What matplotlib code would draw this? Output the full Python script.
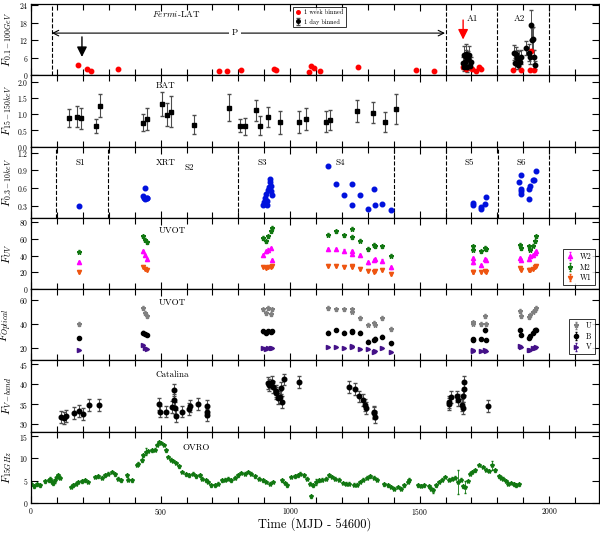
import numpy as np
import matplotlib
matplotlib.use("Agg")
import matplotlib.pyplot as plt
from matplotlib.ticker import MultipleLocator

plt.rcParams["font.family"] = "serif"
plt.rcParams["font.serif"] = ["cmr10", "DejaVu Serif"]
plt.rcParams["mathtext.fontset"] = "cm"
plt.rcParams["axes.formatter.use_mathtext"] = True
plt.rcParams["axes.unicode_minus"] = False

# ---- Fermi-LAT ----
lat_week_x = [180, 217, 230, 334, 727, 755, 812, 936, 944, 1071, 1079, 1092, 1114, 1261, 1486, 1555,
              1666, 1679, 1702, 1717, 1730, 1738, 1862, 1891, 1925, 1932, 1942]
lat_week_y = [3.6, 2.0, 1.6, 2.1, 1.6, 1.5, 1.8, 2.2, 1.9, 1.2, 3.1, 2.6, 1.5, 2.9, 1.7, 1.4,
              3.0, 2.2, 2.2, 1.6, 3.0, 2.2, 1.7, 1.9, 1.8, 8.4, 1.9]
lat_day_x = [1666, 1670, 1672, 1675, 1678, 1680, 1683, 1686, 1690, 1694, 1698,
             1866, 1870, 1874, 1877, 1880, 1883, 1886, 1890, 1910, 1923, 1928, 1932, 1934, 1936, 1940, 1946]
lat_day_y = [4.2, 6.9, 3.0, 4.4, 6.2, 7.3, 2.8, 5.7, 6.9, 3.3, 4.4,
             7.8, 4.1, 7.2, 6.1, 3.5, 5.7, 4.5, 6.3, 9.4, 7.8, 6.3, 17.3, 12.1, 12.6, 6.3, 3.5]
lat_day_err = [2.0, 3.0, 1.5, 2.0, 2.5, 3.5, 1.5, 2.5, 3.0, 1.5, 2.0,
               2.5, 2.0, 2.5, 2.5, 1.5, 2.5, 2.0, 2.5, 2.5, 3.0, 2.5, 5.0, 4.0, 4.0, 2.5, 1.5]

# ---- BAT ----
bat_x = [146, 177, 191, 252, 267, 433, 448, 507, 524, 540, 628, 763, 808, 824, 868, 884, 914, 959,
         1034, 1062, 1139, 1155, 1260, 1319, 1365, 1409]
bat_y = [0.88, 0.92, 0.87, 0.64, 1.26, 0.74, 0.85, 1.32, 0.99, 1.08, 0.68, 1.2, 0.65, 0.62, 1.12, 0.65,
         0.91, 0.75, 0.76, 0.85, 0.77, 0.82, 1.1, 1.05, 0.76, 1.16]
bat_err = [0.28, 0.33, 0.33, 0.22, 0.35, 0.27, 0.33, 0.37, 0.36, 0.47, 0.28, 0.42, 0.2, 0.27, 0.33, 0.3,
           0.3, 0.35, 0.33, 0.35, 0.32, 0.3, 0.33, 0.32, 0.3, 0.45]

# ---- XRT ----
xrt_x = [185, 433, 436, 439, 441, 446, 449,
         895, 898, 902, 906, 909, 912, 915, 918, 921, 924, 927, 931, 925,
         1148, 1179, 1207, 1238, 1238, 1269, 1301, 1323, 1328, 1356, 1388,
         1705, 1706, 1737, 1739, 1753, 1757,
         1884, 1891, 1892, 1893, 1893, 1923, 1925, 1923, 1936, 1940, 1950]
xrt_y = [0.30, 0.46, 0.44, 0.60, 0.41, 0.43, 0.43,
         0.32, 0.37, 0.43, 0.51, 0.32, 0.38, 0.57, 0.62, 0.71, 0.75, 0.55, 0.49, 0.63,
         0.97, 0.67, 0.48, 0.67, 0.32, 0.48, 0.25, 0.58, 0.32, 0.33, 0.24,
         0.35, 0.31, 0.25, 0.28, 0.33, 0.45,
         0.71, 0.82, 0.59, 0.55, 0.51, 0.58, 0.64, 0.42, 0.73, 0.73, 0.89]

# ---- UVOT UV ----
uv_x = [185, 432, 440, 446, 895, 905, 915, 925, 931,
        1148, 1179, 1207, 1238, 1240, 1269, 1301, 1323, 1328, 1356, 1388,
        1705, 1707, 1737, 1753, 1757, 1888, 1893, 1923, 1926, 1936, 1944, 1950]
m2_y = [44.8, 63, 59, 56, 61, 57, 63, 69, 73,
        65, 69, 64, 72, 62, 58, 48, 53, 51, 51, 40,
        51, 47, 45, 49, 48, 53, 49, 51, 47, 52, 57, 63]
w2_y = [32.4, 45, 41, 36, 41, 45, 47, 49, 35,
        48, 48, 46, 45, 42, 41, 32, 35, 36, 34, 26,
        37, 32, 29, 36, 35, 37, 35, 36, 39, 41, 43, 45]
w1_y = [20.4, 27, 24.5, 23, 26, 25, 26, 27, 28,
        28, 28, 27, 28, 26, 24, 21.6, 21, 22, 22.5, 18,
        21, 20, 21, 22, 21, 25, 23, 22.5, 23, 24, 27, 28]

# ---- UVOT optical ----
opt_x = uv_x
u_y = [40.2, 53.6, 49.4, 46.6, 52.2, 49.4, 53.6, 48.6, 52.2,
       53.6, 52.2, 52.2, 52.2, 50.5, 45.2, 39.6, 41, 39.6, 45.2, 36,
       41.5, 40.5, 40.2, 47, 40, 50.8, 46.6, 46, 47.5, 50.5, 52, 53.6]
b_y = [28.4, 33, 32, 31.1, 34, 33, 34.4, 33.5, 34,
       33, 35, 33, 34, 33.5, 33, 25.6, 27, 28, 29.7, 24.2,
       27.6, 27, 27.6, 34.8, 26.7, 35.4, 31.2, 28.4, 30, 33, 34.8, 35.5]
v_y = [18.6, 22.8, 20, 19.2, 20, 19.5, 20.5, 20, 20.5,
       21.4, 21.4, 20.5, 21.4, 22, 19.2, 19.2, 17.2, 17.5, 20.5, 17.2,
       18.6, 18.2, 17.8, 18.6, 18.2, 22, 21.5, 18.6, 19, 20, 20.5, 21.4]

# ---- Catalina V band ----
cat_x = [114, 125, 134, 166, 185, 200, 225, 262,
         493, 498, 520, 545, 551, 551, 556, 561, 582, 609, 612, 643, 680, 680, 680,
         915, 918, 931, 935, 947, 953, 945, 960, 965, 970, 975, 1034,
         1229, 1252, 1265, 1281, 1290, 1292, 1322, 1324, 1326,
         1612, 1615, 1621, 1643, 1650, 1662, 1666, 1667, 1671, 1671, 1766]
cat_y = [31.8, 31.4, 32.0, 32.7, 33.3, 32.5, 34.8, 34.8,
         35.0, 33.1, 33.1, 34.2, 36.0, 38.5, 34.0, 32.0, 33.1, 33.8, 34.4, 35.0, 34.4, 33.1, 32.3,
         40.2, 39.7, 40.6, 39.3, 38.3, 36.4, 37.8, 36.7, 39.0, 35.5, 41.2, 40.6,
         39.4, 38.7, 36.9, 36.0, 34.8, 34.0, 32.7, 33.0, 31.8,
         35.6, 35.1, 36.7, 36.9, 36.1, 34.8, 34.0, 37.0, 38.7, 40.6, 34.5]

# ---- OVRO 15 GHz ----
ovro_x = [0, 9, 22, 35, 54, 67, 73, 80, 86, 92, 99, 105, 112,
          153, 163, 173, 182, 195, 208, 221,
          247, 259, 272, 285, 298, 311, 324, 336, 345, 369, 375, 388,
          407, 414, 426, 433, 442, 452, 465, 478, 487, 494, 503, 512, 520, 529, 538, 548, 561, 572,
          584, 597, 610, 623, 638, 651, 661, 674, 683, 696, 709, 722, 735, 748, 760, 773, 786,
          799, 812, 825, 837, 850, 863, 880, 895, 908, 921, 934,
          970, 979, 988, 1004, 1017, 1030, 1039, 1052, 1065, 1075, 1082, 1088, 1101, 1111, 1124,
          1137, 1150, 1162, 1175, 1188, 1204, 1216, 1229, 1245, 1258, 1270, 1283, 1296, 1309,
          1322, 1334, 1364, 1377, 1390, 1403, 1415, 1428, 1441, 1454, 1460,
          1493, 1505, 1518, 1535, 1544, 1553, 1563, 1573, 1586, 1599, 1612, 1625, 1638, 1647,
          1660, 1669, 1676, 1685, 1694, 1704, 1715, 1728, 1743, 1756, 1769, 1778, 1792, 1805,
          1814, 1823, 1833, 1843, 1852, 1865, 1874, 1882]
ovro_y = [4.35, 3.75, 4.2, 4.0, 4.9, 5.1, 5.5, 4.7, 4.4, 5.1, 5.9, 6.2, 5.7,
          3.6, 4.0, 4.35, 4.7, 4.9, 5.1, 4.7,
          5.85, 6.0, 5.7, 6.2, 6.6, 7.0, 6.45, 5.5, 5.1, 6.2, 5.25, 5.1,
          8.5, 8.85, 9.6, 10.7, 11.5, 11.7, 11.85, 12.0, 13.0, 13.7, 13.5, 13.0, 11.85, 10.35, 9.75,
          9.4, 9.0, 8.25,
          7.0, 6.45, 6.2, 6.6, 6.0, 6.2, 5.5, 5.1, 4.7, 4.0, 4.0, 4.35, 5.1, 5.25, 5.5, 5.1, 5.7,
          6.2, 6.75, 6.6, 7.0, 6.6, 6.0, 5.5, 5.1, 4.7, 4.35, 4.7,
          5.1, 4.5, 4.0, 5.85, 6.0, 6.2, 6.6, 6.2, 5.5, 4.35, 1.5, 4.0, 4.7, 5.1, 5.25,
          5.5, 6.2, 5.85, 5.5, 5.25, 4.5, 4.35, 4.35, 4.1, 4.1, 4.7, 5.25, 5.7, 6.0,
          5.7, 5.25, 4.2, 4.0, 3.6, 3.2, 3.6, 3.2, 4.0, 4.7, 5.25,
          4.0, 3.8, 4.0, 3.75, 3.2, 2.85, 4.0, 4.7, 5.25, 5.85, 5.25, 5.5, 5.7, 4.7,
          5.25, 3.75, 3.6, 4.95, 6.6, 6.95, 7.35, 8.5, 8.1, 7.5, 7.2, 8.5, 7.35, 6.0,
          5.7, 5.5, 4.95, 4.35, 4.5, 4.2, 4.0, 4.2]
ovro_big_err = {1647: 2.7, 1676: 1.3, 1778: 1.0, 442: 0.8, 92: 0.7, 1553: 0.6, 1101: 0.6}

# ---------------- figure ----------------
fig, axes = plt.subplots(7, 1, sharex=True, figsize=(6, 5.34), dpi=100)
fig.subplots_adjust(left=0.052, right=0.998, top=0.9925, bottom=0.058, hspace=0)

ylabels = [r"$F_{0.1-100GeV}$", r"$F_{15-150keV}$", r"$F_{0.3-10keV}$", r"$F_{UV}$",
           r"$F_{Optical}$", r"$F_{V-band}$", r"$F_{15GHz}$"]
ylims = [(0, 24.5), (0, 2.2), (0.1, 1.3), (0, 85), (10, 69), (28, 46), (0, 16)]
ysteps = [6, 0.5, 0.3, 20, 20, 5, 5]

for ax, lab, yl, st in zip(axes, ylabels, ylims, ysteps):
    ax.set_xlim(0, 2192)
    ax.set_ylim(*yl)
    ax.yaxis.set_major_locator(MultipleLocator(st))
    ax.xaxis.set_major_locator(MultipleLocator(500))
    ax.xaxis.set_minor_locator(MultipleLocator(100))
    ax.tick_params(direction="in", top=True, right=True, labelsize=5.5, length=5, width=0.8, pad=2)
    ax.tick_params(which="minor", direction="in", top=True, length=4, width=0.8)
    ax.set_ylabel(lab, fontsize=8)
    ax.yaxis.set_label_coords(-0.031, 0.5)
    for s in ax.spines.values():
        s.set_linewidth(0.9)

txt = dict(fontsize=6.5, ha="center", va="center")

# panel 1: Fermi-LAT
ax = axes[0]
for xv in [80, 1600, 1800, 2000]:
    ax.axvline(xv, color="k", ls="--", lw=0.8)
ax.errorbar(lat_week_x, lat_week_y, fmt="o", color="red", ms=3.2, label="1 week binned")
ax.errorbar(lat_day_x, lat_day_y, yerr=lat_day_err, fmt="o", color="k", ms=3.2,
            ecolor="0.3", elinewidth=0.7, capsize=1.5, label="1 day binned")
ax.annotate("", xy=(80, 14.5), xytext=(1598, 14.5),
            arrowprops=dict(arrowstyle="<->", color="k", lw=0.8, shrinkA=0, shrinkB=0))
ax.text(786, 14.5, "P", fontsize=6.5, ha="center", va="center",
        bbox=dict(facecolor="white", edgecolor="none", pad=2))
ax.annotate("", xy=(196, 6.3), xytext=(196, 13.2),
            arrowprops=dict(arrowstyle="-|>,head_width=0.3,head_length=0.6", color="k", lw=1.0,
                            shrinkA=0, shrinkB=0))
ax.annotate("", xy=(1668, 12.3), xytext=(1668, 19.0),
            arrowprops=dict(arrowstyle="-|>,head_width=0.3,head_length=0.6", color="red", lw=1.0,
                            shrinkA=0, shrinkB=0))
ax.text(560, 21, r"$\it{Fermi}$-LAT", **txt)
ax.text(1705, 19.5, "A1", **txt)
ax.text(1885, 19.5, "A2", **txt)
ax.legend(loc="upper left", bbox_to_anchor=(0.455, 1.0), fontsize=4.5, frameon=True,
          fancybox=False, edgecolor="k", handlelength=1, handletextpad=0.5, borderpad=0.4,
          labelspacing=0.5, markerscale=0.8).get_frame().set_linewidth(0.7)

# panel 2: BAT
ax = axes[1]
ax.errorbar(bat_x, bat_y, yerr=bat_err, fmt="s", color="k", ms=3.2, ecolor="0.3",
            elinewidth=0.8, capsize=1.5)
ax.text(519, 1.87, "BAT", **txt)

# panel 3: XRT
ax = axes[2]
for xv in [95, 295, 797, 1400, 1602, 1801, 2000]:
    ax.axvline(xv, color="k", ls="--", lw=0.8)
ax.plot(xrt_x, xrt_y, "o", color="#0011dd", ms=3.3)
for lx, ly, s in [(189, 1.03, "S1"), (519, 1.03, "XRT"), (610, 0.94, "S2"), (891, 1.03, "S3"),
                  (1193, 1.03, "S4"), (1692, 1.03, "S5"), (1891, 1.03, "S6")]:
    ax.text(lx, ly, s, **txt)

# panel 4: UV
ax = axes[3]
ax.errorbar(uv_x, w2_y, yerr=1.5, fmt="^", color="magenta", ms=3.0, elinewidth=0.6, capsize=1, label="W2")
ax.errorbar(uv_x, m2_y, yerr=2.0, fmt="*", color="#117711", ms=3.3, elinewidth=0.6, capsize=1, label="M2")
ax.errorbar(uv_x, w1_y, yerr=1.2, fmt="v", color="#ee5511", ms=3.0, elinewidth=0.6, capsize=1, label="W1")
ax.text(546, 69, "UVOT", **txt)
ax.legend(loc="lower right", bbox_to_anchor=(1.0, 0.0), fontsize=5.5, frameon=True,
          fancybox=False, edgecolor="k", handlelength=1, handletextpad=0.8, borderpad=0.4,
          labelspacing=0.3).get_frame().set_linewidth(0.7)

# panel 5: optical
ax = axes[4]
ax.errorbar(opt_x, u_y, yerr=1.5, fmt="*", color="grey", ms=3.3, elinewidth=0.6, capsize=1, label="U")
ax.errorbar(opt_x, b_y, yerr=1.0, fmt="o", color="k", ms=3.0, elinewidth=0.6, capsize=1, label="B")
ax.errorbar(opt_x, v_y, yerr=0.8, fmt=">", color="#441188", ms=3.0, elinewidth=0.6, capsize=1, label="V")
ax.text(546, 57.8, "UVOT", **txt)
ax.legend(loc="lower right", bbox_to_anchor=(1.0, 0.03), fontsize=5.5, frameon=True,
          fancybox=False, edgecolor="k", handlelength=1, handletextpad=0.8, borderpad=0.4,
          labelspacing=0.3).get_frame().set_linewidth(0.7)

# panel 6: Catalina
ax = axes[5]
ax.errorbar(cat_x, cat_y, yerr=1.5, fmt="o", color="k", ms=3.3, ecolor="0.3",
            elinewidth=0.7, capsize=1.5)
ax.text(546, 42.5, "Catalina", **txt)

# panel 7: OVRO
ax = axes[6]
ovro_err = [ovro_big_err.get(xv, 0.3) for xv in ovro_x]
ax.errorbar(ovro_x, ovro_y, yerr=ovro_err, fmt="*", color="#117711", ms=3.0,
            elinewidth=0.6, capsize=1)
ax.text(636, 12.4, "OVRO", **txt)
ax.set_xlabel("Time (MJD - 54600)", fontsize=9)
ax.xaxis.set_label_coords(0.5, -0.2)

fig.savefig("out.png", dpi=100)
